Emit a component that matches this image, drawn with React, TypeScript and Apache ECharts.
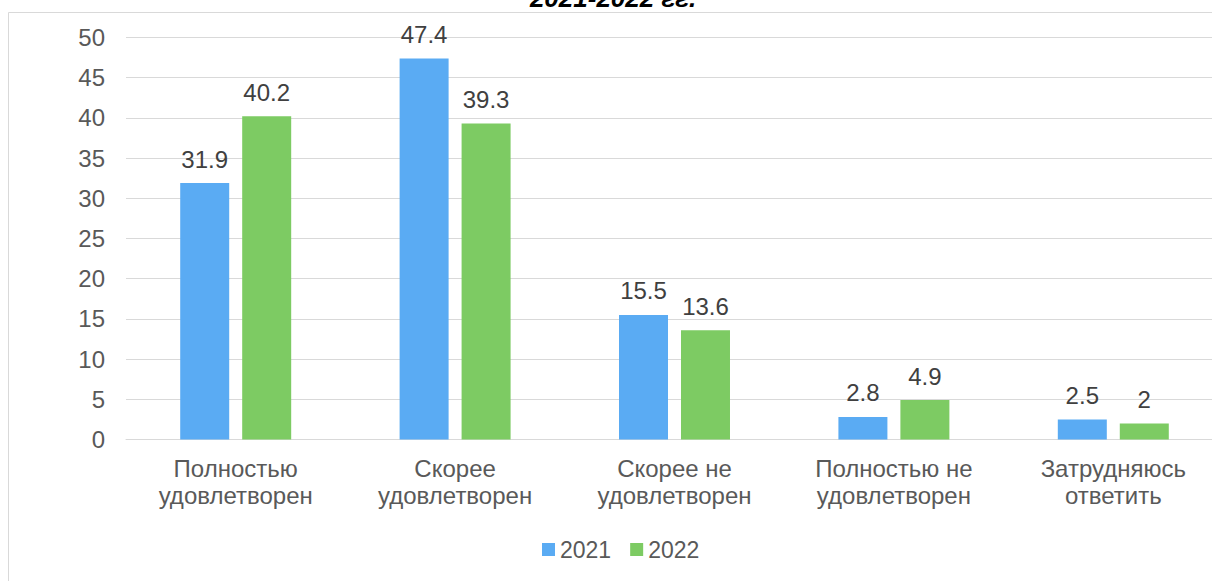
import React, { useEffect, useRef } from "react";
import * as echarts from "echarts";

const categories = [
  "Полностью\nудовлетворен",
  "Скорее\nудовлетворен",
  "Скорее не\nудовлетворен",
  "Полностью не\nудовлетворен",
  "Затрудняюсь\nответить",
];
const seriesNames = ["2021", "2022"];
const values2021 = [31.9, 47.4, 15.5, 2.8, 2.5];
const values2022 = [40.2, 39.3, 13.6, 4.9, 2];
const yTicks = { min: 0, max: 50, interval: 5 };
const titleText = "2021-2022 гг.";

const OFFSET = 30;

export default function App() {
  const ref = useRef<HTMLDivElement>(null);
  useEffect(() => {
    if (!ref.current) return;
    const chart = echarts.init(ref.current, null, { renderer: "svg" });
    const font = "'Liberation Sans', Arial, sans-serif";
    chart.setOption({
      animation: false,
      textStyle: { fontFamily: font },
      graphic: [
        {
          type: "rect",
          shape: { x: 8.5, y: 12.5 + OFFSET, width: 1300, height: 700 },
          style: { fill: "none", stroke: "#d9d9d9", lineWidth: 1 },
          silent: true,
          z: -10,
        },
        {
          type: "text",
          x: 613,
          y: 11 + OFFSET,
          style: {
            text: titleText,
            fontFamily: font,
            fontSize: 26,
            fontWeight: "bold",
            fontStyle: "italic",
            fill: "#000000",
            align: "center",
            verticalAlign: "bottom",
          },
        },
      ],
      grid: { left: 126, right: 17, top: 37.5 + OFFSET, bottom: 640 - (439.5 + OFFSET) },
      legend: {
        data: seriesNames,
        left: 537,
        top: 533 + OFFSET,
        itemWidth: 13,
        itemHeight: 13,
        itemGap: 19,
        icon: "rect",
        textStyle: { color: "#595959", fontSize: 23, fontFamily: font, padding: [0, 0, 0, 0] },
      },
      xAxis: {
        type: "category",
        data: categories,
        axisLine: { show: true, lineStyle: { color: "#d9d9d9", width: 1 } },
        axisTick: { show: false },
        axisLabel: { color: "#595959", fontSize: 24, lineHeight: 27, margin: 15, fontFamily: font, interval: 0 },
      },
      yAxis: {
        type: "value",
        min: yTicks.min,
        max: yTicks.max,
        interval: yTicks.interval,
        axisLine: { show: false },
        axisTick: { show: false },
        axisLabel: { color: "#595959", fontSize: 24, margin: 21, fontFamily: font },
        splitLine: { lineStyle: { color: "#d9d9d9", width: 1 } },
      },
      series: [
        {
          name: seriesNames[0],
          type: "bar",
          data: values2021,
          barWidth: 49,
          barGap: "26.5%",
          itemStyle: { color: "#5aabf3" },
          label: { show: true, position: "top", distance: 12, color: "#404040", fontSize: 24, fontFamily: font },
        },
        {
          name: seriesNames[1],
          type: "bar",
          data: values2022,
          barWidth: 49,
          barGap: "26.5%",
          itemStyle: { color: "#7dcb63" },
          label: { show: true, position: "top", distance: 12, color: "#404040", fontSize: 24, fontFamily: font },
        },
      ],
    });
    return () => chart.dispose();
  }, []);
  return (
    <div style={{ position: "fixed", left: 0, top: 0, width: 1212, height: 581, overflow: "hidden", background: "#fff" }}>
      <div ref={ref} style={{ position: "absolute", left: 0, top: -OFFSET, width: 1240, height: 640 }} />
    </div>
  );
}
